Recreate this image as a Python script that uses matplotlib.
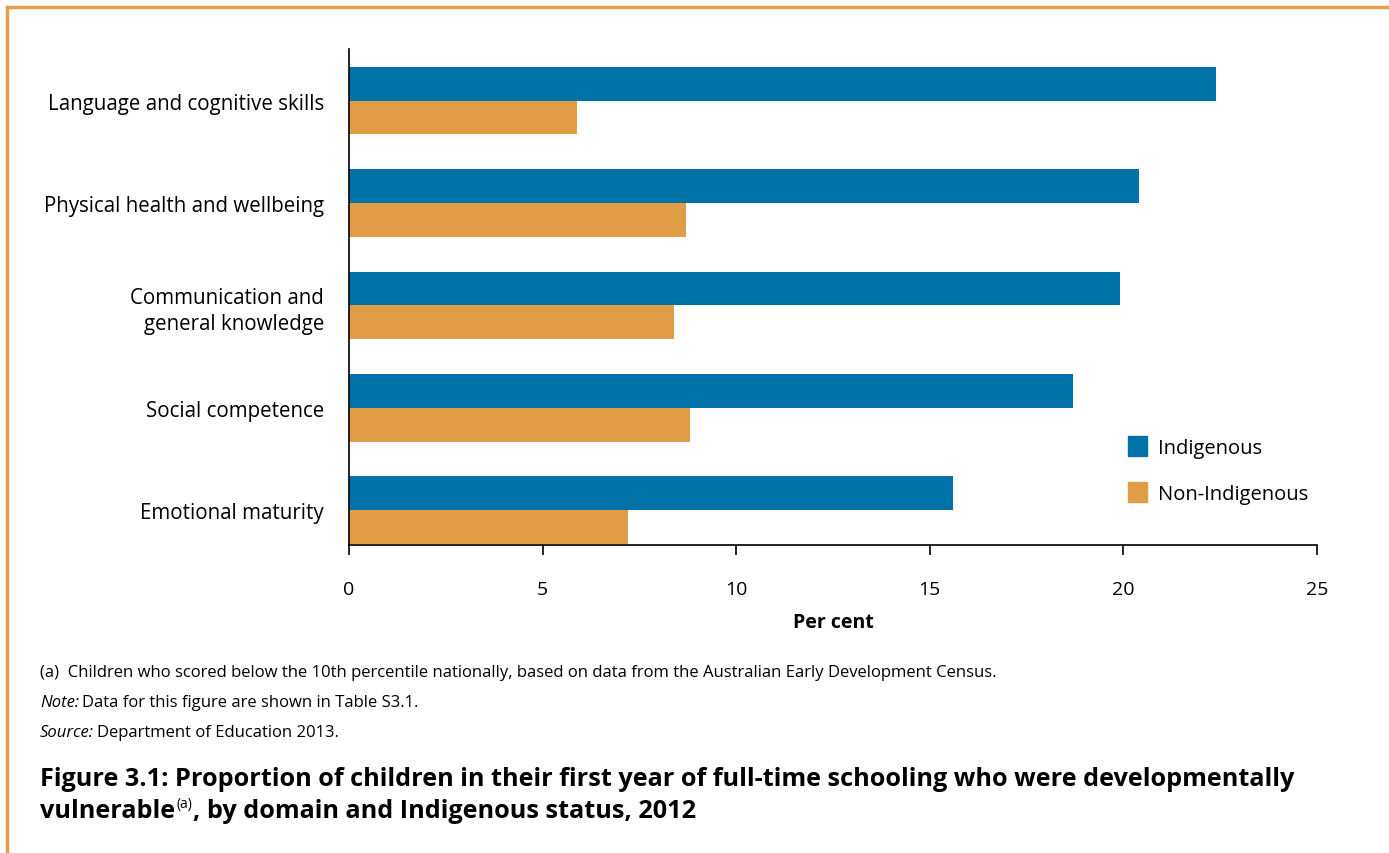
import matplotlib
matplotlib.use("Agg")
import matplotlib.pyplot as plt
from matplotlib.patches import Patch
from matplotlib.lines import Line2D

CATEGORIES = [
    "Language and cognitive skills",
    "Physical health and wellbeing",
    "Communication and\ngeneral knowledge",
    "Social competence",
    "Emotional maturity",
]
INDIGENOUS = [22.4, 20.4, 19.9, 18.7, 15.6]
NON_INDIGENOUS = [5.9, 8.7, 8.4, 8.8, 7.2]
XTICKS = [0, 5, 10, 15, 20, 25]

BLUE = "#0072a8"
ORANGE = "#e09d45"
BORDER = "#e3a04c"

FONT = ["Open Sans", "DejaVu Sans"]

plt.rcParams["font.family"] = FONT

fig = plt.figure(figsize=(13.89, 8.54), dpi=100)
ax = fig.add_axes([349 / 1389, 1 - 546 / 854, (1317 - 349) / 1389, (546 - 50) / 854])

bar_h = 0.33
ypos = list(range(len(CATEGORIES)))
ax.barh([y - bar_h / 2 for y in ypos], INDIGENOUS, height=bar_h, color=BLUE, label="Indigenous")
ax.barh([y + bar_h / 2 for y in ypos], NON_INDIGENOUS, height=bar_h, color=ORANGE, label="Non-Indigenous")

ax.set_ylim(4.34, -0.505)
ax.set_xlim(0, 25)
ax.set_xticks(XTICKS)
ax.set_xticklabels([str(t) for t in XTICKS], fontsize=14)
ax.set_yticks(ypos)
ax.set_yticklabels(CATEGORIES, fontsize=14.8, ha="right", linespacing=1.3)
ax.tick_params(axis="y", length=0, pad=18)
ax.tick_params(axis="x", length=7, width=1.2, direction="out", pad=18)
for s in ("top", "right"):
    ax.spines[s].set_visible(False)
for s in ("left", "bottom"):
    ax.spines[s].set_linewidth(1.2)
ax.set_xlabel("Per cent", fontsize=14, fontweight="bold", labelpad=10)

handles = [Patch(color=BLUE, label="Indigenous"), Patch(color=ORANGE, label="Non-Indigenous")]
fig.legend(handles=handles, loc="upper left", bbox_to_anchor=(1128 / 1389, 1 - 437 / 854),
           frameon=False, fontsize=14.5, handlelength=0.95, handleheight=1.15,
           labelspacing=1.2, handletextpad=0.55, borderaxespad=0, borderpad=0)

# footnotes
fs = 11.95
fig.text(40 / 1389, 1 - 673 / 854, "(a)  Children who scored below the 10th percentile nationally, based on data from the Australian Early Development Census.",
         fontsize=fs, va="center")
t = fig.text(40 / 1389, 1 - 703 / 854, "Note:", fontsize=fs, style="italic", va="center")
fig.canvas.draw()
r = fig.canvas.get_renderer()
bb = t.get_window_extent(r)
fig.text((bb.x1 + 3) / 1389, 1 - 703 / 854, "Data for this figure are shown in Table S3.1.", fontsize=fs, va="center")
t = fig.text(40 / 1389, 1 - 733 / 854, "Source:", fontsize=fs, style="italic", va="center")
bb = t.get_window_extent(r)
fig.text((bb.x1 + 3) / 1389, 1 - 733 / 854, "Department of Education 2013.", fontsize=fs, va="center")

# caption
cs = 18.2
fig.text(40 / 1389, 1 - 780 / 854,
         "Figure 3.1: Proportion of children in their first year of full-time schooling who were developmentally",
         fontsize=cs, fontweight="bold", va="center")
t = fig.text(40 / 1389, 1 - 812 / 854, "vulnerable", fontsize=cs, fontweight="bold", va="center")
bb = t.get_window_extent(r)
t2 = fig.text((bb.x1 + 1) / 1389, 1 - 805 / 854, "(a)", fontsize=10, va="center")
bb2 = t2.get_window_extent(r)
fig.text((bb2.x1 + 1) / 1389, 1 - 812 / 854, ", by domain and Indigenous status, 2012",
         fontsize=cs, fontweight="bold", va="center")

# orange frame (top and left)
fig.add_artist(Line2D([7 / 1389, 1], [1 - 8 / 854, 1 - 8 / 854], color=BORDER, lw=2.5))
fig.add_artist(Line2D([7 / 1389, 7 / 1389], [0, 1 - 8 / 854], color=BORDER, lw=2.5))

fig.savefig("out.png", dpi=100)
